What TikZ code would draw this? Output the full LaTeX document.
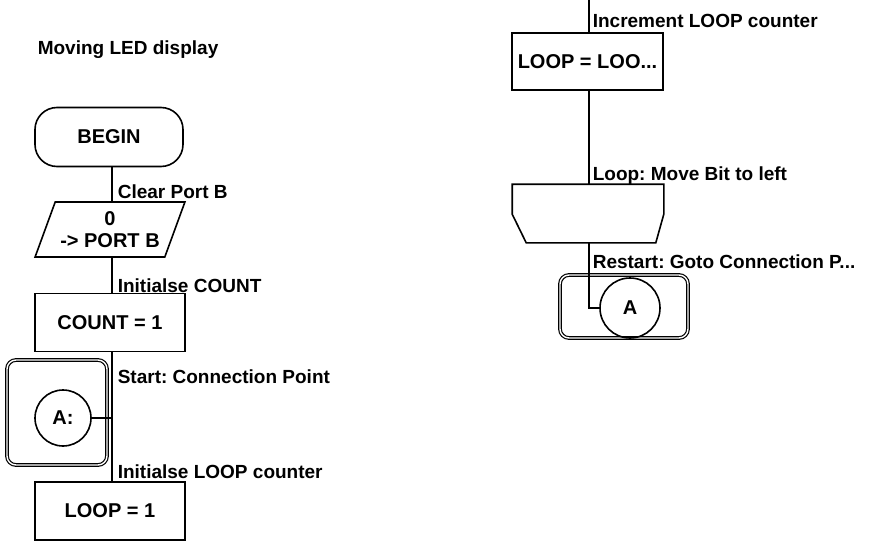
\documentclass[tikz,border=0pt]{standalone}
\usepackage{fontspec}
\setmainfont{Liberation Sans}
\usetikzlibrary{positioning,shapes.geometric,calc}
\frenchspacing

\begin{document}
\begin{tikzpicture}[
  x=1pt, y=-1pt,
  font=\fontsize{19}{22}\selectfont\bfseries,
  line width=1.6pt,
  procbox/.style={draw, rectangle, minimum width=150pt, minimum height=58pt, inner sep=2pt, font=\fontsize{20}{23}\selectfont\bfseries},
  termbox/.style={draw, rounded corners=22pt, minimum width=148pt, minimum height=59pt, font=\fontsize{20}{23}\selectfont\bfseries},
  iobox/.style={draw, trapezium, trapezium left angle=64, trapezium right angle=116, trapezium stretches=true, minimum width=150pt, minimum height=55pt, align=center, inner sep=1pt, font=\fontsize{20}{22}\selectfont\bfseries},
  loopbox/.style={rectangle, minimum width=150pt, minimum height=57pt},
  connbox/.style={draw, double, double distance=1.4pt, line width=1.2pt, rounded corners=9pt},
  connpt/.style={draw, circle, minimum size=56pt, inner sep=0pt, font=\fontsize{20}{23}\selectfont\bfseries},
  lbl/.style={anchor=base west, inner sep=0pt}
]
  \useasboundingbox (0,0) rectangle (878,543);

  % title
  \node[lbl] (title) at (37,55) {Moving LED display};

  % LEFT COLUMN
  \node[termbox] (begin) at (109,137) {BEGIN};
  \node[iobox] (clr) at (110,229.5) {0\\-> PORT B};
  \node[procbox] (count) at (110,322.5) {COUNT = 1};
  \node[connbox, minimum width=100pt, minimum height=105pt] (startbox) at (57,412.5) {};
  \node[connpt] (starta) at (63,418) {A:};
  \node[procbox] (loop1) at (110,511) {LOOP = 1};

  \coordinate (lsp) at (112,0);
  \draw (lsp |- begin.south) -- (lsp |- clr.north);
  \draw (lsp |- clr.south) -- (lsp |- count.north);
  \draw (lsp |- count.south) -- (lsp |- loop1.north);
  \draw (starta.east) -- (lsp |- starta.east);

  \node[lbl] (clrlbl) at (117,198) {Clear Port B};
  \node[lbl] (cntlbl) at (117,292) {Initialse COUNT};
  \node[lbl] (startlbl) at (117,383) {Start: Connection Point};
  \node[lbl] (looplbl) at (117,478) {Initialse LOOP counter};

  % RIGHT COLUMN
  \coordinate (rtop) at (589,0);
  \node[procbox, minimum width=151pt, minimum height=57pt] (incr) at (587.5,61.5) {LOOP = LOO...};
  \node[loopbox] (movebit) at (588,213.5) {};
  \draw (movebit.north west) -- (movebit.north east) -- ($(movebit.north east)+(0,30)$)
    -- ($(movebit.south east)+(-8,0)$) -- ($(movebit.south west)+(14,0)$)
    -- ($(movebit.north west)+(0,30)$) -- cycle;
  \node[connbox, minimum width=128pt, minimum height=63pt] (restartbox) at (624,306.5) {};
  \node[connpt, minimum size=60pt] (restarta) at (630,308) {A};

  \draw (rtop) -- (rtop |- incr.north);
  \draw (rtop |- incr.south) -- (rtop |- movebit.north);
  \draw (rtop |- movebit.south) -- (rtop |- restarta.west) coordinate (rbend) -- (restarta.west);

  \node[lbl] (incrlbl) at (592,28) {Increment LOOP counter};
  \node[lbl] (movelbl) at (592,180) {Loop: Move Bit to left};
  \node[lbl] (restlbl) at (592,268) {Restart: Goto Connection P...};

\end{tikzpicture}
\end{document}
